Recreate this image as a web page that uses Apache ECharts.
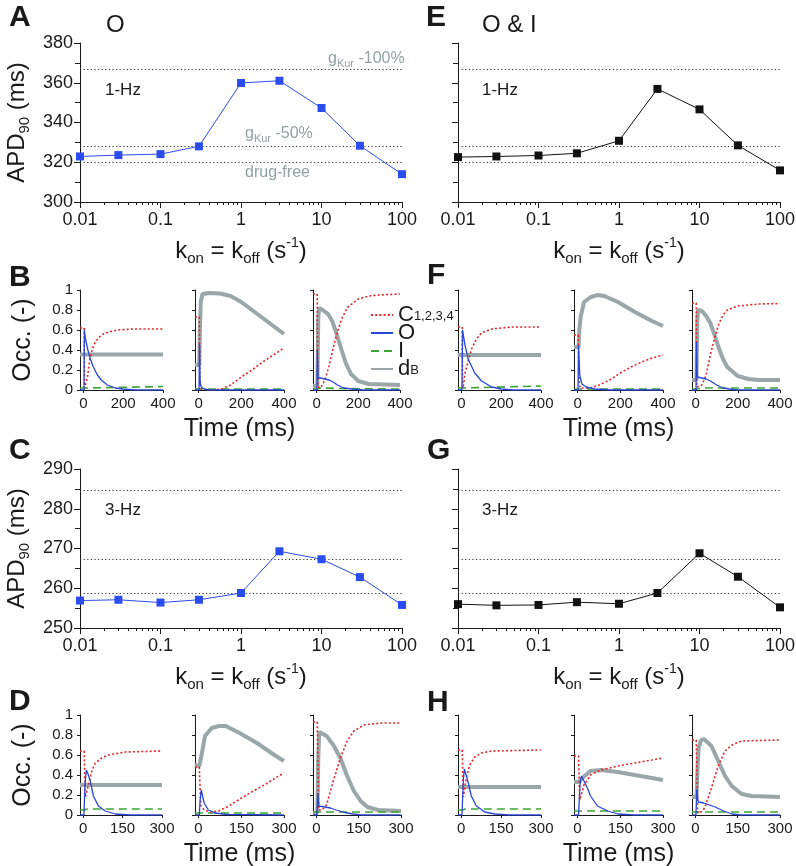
<!DOCTYPE html>
<html>
<head>
<meta charset="utf-8">
<script src="https://cdn.jsdelivr.net/npm/echarts@6/dist/echarts.min.js"></script>
<style>
  html, body { margin: 0; padding: 0; background: #fff; }
  #chart { width: 796px; height: 866px; }
</style>
</head>
<body>
<div id="chart"></div>
<script>
// --- APD90 vs rate constants ---
var kon = [0.01, 0.03, 0.1, 0.3, 1, 3, 10, 30, 100];
var apdA = [322.9, 323.6, 324.1, 328.0, 359.9, 361.0, 347.3, 328.3, 314.0];
var apdE = [322.6, 322.9, 323.4, 324.5, 330.8, 356.9, 346.6, 328.5, 315.9];
var apdC = [256.9, 257.1, 256.4, 257.1, 258.8, 269.3, 267.3, 262.8, 255.8];
var apdG = [256.0, 255.7, 255.8, 256.5, 256.1, 258.8, 268.8, 262.9, 255.2];
var ref1Hz = [366.7, 328.2, 320.2];   // gKur -100%, gKur -50%, drug-free
var ref3Hz = [284.7, 267.4, 258.8];
var logMinor = [0.02, 0.03, 0.04, 0.05, 0.06, 0.07, 0.08, 0.09,
                0.2, 0.3, 0.4, 0.5, 0.6, 0.7, 0.8, 0.9,
                2, 3, 4, 5, 6, 7, 8, 9,
                20, 30, 40, 50, 60, 70, 80, 90];

// --- occupancy time courses [t(ms), occ] : C, O, I, dB ---
var B1_C = [[-17,0.62],[4,0.62],[6,0.02],[12,0.03],[20,0.12],[30,0.28],[45,0.41],[60,0.48],[80,0.53],[100,0.56],[130,0.58],[170,0.6],[250,0.61],[400,0.61]];
var B1_O = [[-17,0],[3,0],[5,0.6],[10,0.52],[20,0.42],[35,0.31],[50,0.23],[70,0.15],[90,0.1],[120,0.05],[160,0.02],[200,0.01],[260,0],[400,0]];
var B1_I = [[-17,0.02],[4,0.02],[10,0.035],[400,0.035]];
var B1_D = [[-17,0.355],[400,0.355]];

var B2_C = [[-17,0.73],[3,0.73],[6,0.06],[12,0.01],[60,0],[110,0.01],[150,0.05],[200,0.13],[250,0.2],[300,0.28],[350,0.35],[400,0.42]];
var B2_O = [[-17,0],[2,0],[4,0.46],[7,0.08],[12,0.03],[25,0.01],[50,0],[400,0]];
var B2_I = [[-17,0.01],[400,0.01]];
var B2_D = [[-17,0.25],[3,0.25],[6,0.6],[10,0.88],[18,0.96],[50,0.97],[100,0.965],[150,0.94],[200,0.88],[250,0.8],[300,0.72],[350,0.64],[400,0.56]];

var B3_C = [[-17,0.96],[3,0.96],[6,0.05],[12,0.02],[25,0.04],[40,0.1],[60,0.24],[80,0.42],[100,0.58],[120,0.71],[150,0.83],[200,0.91],[250,0.94],[300,0.95],[400,0.96]];
var B3_O = [[-17,0],[2,0],[4,0.4],[7,0.12],[20,0.12],[40,0.11],[60,0.1],[80,0.08],[100,0.05],[130,0.02],[170,0.01],[220,0],[400,0]];
var B3_I = [[-17,0.01],[5,0.01],[20,0.02],[100,0.015],[400,0.01]];
var B3_D = [[-17,0.04],[4,0.04],[8,0.7],[12,0.82],[30,0.8],[55,0.76],[75,0.69],[90,0.6],[105,0.5],[120,0.4],[140,0.27],[165,0.16],[200,0.09],[250,0.06],[400,0.05]];

var F1_C = [[-17,0.63],[4,0.63],[6,0.02],[12,0.06],[17,0.16],[34,0.29],[51,0.41],[76,0.51],[101,0.57],[152,0.61],[250,0.63],[400,0.63]];
var F1_O = [[-17,0],[3,0],[6,0.6],[17,0.46],[34,0.31],[67,0.17],[101,0.09],[152,0.03],[200,0.01],[260,0],[400,0]];
var F1_I = [[-17,0.02],[5,0.02],[15,0.04],[400,0.04]];
var F1_D = [[-17,0.35],[400,0.35]];

var F2_C = [[-17,0.55],[3,0.55],[7,0.08],[12,0.02],[60,0.02],[100,0.05],[150,0.1],[200,0.17],[250,0.23],[300,0.28],[350,0.32],[400,0.35]];
var F2_O = [[-17,0],[2,0],[4,0.45],[10,0.15],[20,0.06],[40,0.03],[80,0.01],[150,0],[400,0]];
var F2_I = [[-17,0.01],[400,0.01]];
var F2_D = [[-17,0.43],[4,0.43],[8,0.6],[14,0.73],[30,0.88],[62,0.93],[94,0.95],[125,0.94],[189,0.88],[268,0.78],[348,0.69],[400,0.64]];

var F3_C = [[-17,0.87],[3,0.87],[6,0.03],[15,0.02],[30,0.05],[50,0.15],[70,0.35],[90,0.52],[110,0.66],[130,0.75],[150,0.8],[200,0.84],[300,0.86],[400,0.865]];
var F3_O = [[-17,0],[2,0],[4,0.48],[8,0.13],[30,0.12],[50,0.11],[70,0.09],[100,0.05],[130,0.02],[160,0.01],[200,0],[400,0]];
var F3_I = [[-17,0.01],[5,0.01],[30,0.02],[400,0.02]];
var F3_D = [[-17,0.1],[4,0.1],[8,0.7],[12,0.8],[30,0.79],[50,0.74],[70,0.67],[90,0.55],[110,0.42],[130,0.31],[150,0.23],[200,0.14],[250,0.11],[300,0.1],[400,0.1]];

var D1_C = [[-12,0.64],[4,0.64],[8,0.18],[12,0.2],[20,0.3],[33,0.44],[46,0.52],[71,0.57],[96,0.6],[160,0.63],[300,0.64]];
var D1_O = [[-12,0],[3,0],[7,0.3],[12,0.45],[20,0.4],[27,0.34],[39,0.19],[58,0.09],[84,0.04],[122,0.01],[180,0],[300,0]];
var D1_I = [[-12,0.05],[5,0.05],[15,0.06],[300,0.06]];
var D1_D = [[-12,0.3],[300,0.3]];

var D2_C = [[-12,0.48],[3,0.48],[8,0.1],[20,0.05],[40,0.03],[70,0.04],[100,0.08],[140,0.15],[180,0.22],[230,0.3],[270,0.37],[300,0.42]];
var D2_O = [[-12,0],[3,0],[6,0.15],[10,0.25],[20,0.12],[35,0.05],[60,0.02],[100,0.005],[300,0]];
var D2_I = [[-12,0.02],[300,0.02]];
var D2_D = [[-12,0.5],[3,0.49],[6,0.48],[11,0.6],[23,0.79],[47,0.87],[72,0.89],[96,0.89],[144,0.82],[205,0.72],[266,0.6],[300,0.54]];

var D3_C = [[-12,0.93],[3,0.93],[8,0.05],[20,0.05],[36,0.1],[60,0.34],[85,0.57],[109,0.74],[133,0.84],[169,0.9],[230,0.92],[300,0.92]];
var D3_O = [[-12,0],[2,0],[5,0.22],[9,0.09],[30,0.08],[50,0.07],[70,0.05],[100,0.025],[130,0.01],[160,0],[300,0]];
var D3_I = [[-12,0.03],[300,0.03]];
var D3_D = [[-12,0.02],[3,0.02],[7,0.6],[10,0.83],[36,0.79],[60,0.7],[85,0.57],[109,0.39],[133,0.24],[157,0.14],[181,0.08],[218,0.05],[300,0.04]];

var H1_C = [[-12,0.65],[4,0.65],[8,0.18],[19,0.37],[32,0.5],[51,0.58],[76,0.62],[114,0.64],[300,0.65]];
var H1_O = [[-12,0],[3,0],[8,0.35],[12,0.46],[25,0.34],[38,0.19],[57,0.09],[89,0.03],[127,0.01],[180,0],[300,0]];
var H1_I = [[-12,0.05],[5,0.05],[15,0.06],[300,0.06]];
var H1_D = [[-12,0.28],[300,0.28]];

var H2_C = [[-12,0.59],[4,0.59],[8,0.15],[23,0.3],[46,0.4],[82,0.45],[142,0.49],[201,0.52],[261,0.55],[300,0.57]];
var H2_O = [[-12,0],[4,0],[9,0.3],[14,0.39],[35,0.27],[46,0.19],[70,0.09],[106,0.04],[142,0.01],[200,0],[300,0]];
var H2_I = [[-12,0.04],[300,0.04]];
var H2_D = [[-12,0.33],[5,0.33],[17,0.37],[46,0.44],[82,0.45],[142,0.43],[201,0.4],[261,0.37],[300,0.35]];

var H3_C = [[-12,0.75],[3,0.75],[8,0.02],[20,0.03],[33,0.07],[57,0.27],[81,0.49],[105,0.64],[129,0.7],[164,0.74],[300,0.75]];
var H3_O = [[-12,0],[2,0],[5,0.26],[10,0.13],[30,0.12],[50,0.1],[70,0.08],[100,0.04],[130,0.01],[160,0],[300,0]];
var H3_I = [[-12,0.03],[300,0.03]];
var H3_D = [[-12,0.18],[4,0.18],[8,0.5],[12,0.68],[21,0.75],[30,0.76],[57,0.69],[81,0.54],[105,0.39],[129,0.29],[164,0.21],[200,0.19],[300,0.18]];

var ticks400 = [0, 200, 400];
var ticks300 = [0, 150, 300];
var occTicks = [0, 0.2, 0.4, 0.6, 0.8, 1];

var FONT = '"Liberation Sans", Arial, Helvetica, sans-serif';
var INK = '#1a1a1a';

var grids = [], xAxes = [], yAxes = [], series = [];

var richBig = {
  m: { fontSize: 24, lineHeight: 30, fontFamily: FONT, color: INK },
  s: { fontSize: 15, lineHeight: 15, fontFamily: FONT, color: INK, verticalAlign: 'bottom' },
  p: { fontSize: 14, lineHeight: 22, fontFamily: FONT, color: INK, verticalAlign: 'top' }
};
var kName = '{m|k}{s|on}{m| = k}{s|off}{m| (s}{p|-1}{m|)}';

function apdPanel(box, values, refs, color, yMin, yMax, yStep, withLabels) {
  var gi = grids.length;
  grids.push({ left: box[0], top: box[1], width: box[2], height: box[3], containLabel: false, outerBoundsMode: 'none' });
  var xi = xAxes.length;
  xAxes.push({
    gridIndex: gi, type: 'log', logBase: 10, min: 0.01, max: 100, position: 'bottom',
    axisLine: { onZero: false, lineStyle: { color: INK, width: 1 } },
    axisTick: { length: 6, lineStyle: { color: INK } },
    axisLabel: { fontSize: 18, color: INK, fontFamily: FONT, margin: 9,
      formatter: function (v) { return String(parseFloat(Number(v).toPrecision(6))); } },
    splitLine: { show: false },
    name: kName, nameLocation: 'middle', nameGap: 34,
    nameTextStyle: { rich: richBig }
  });
  // minor decade ticks, placed on a companion axis in log10 units
  xAxes.push({
    gridIndex: gi, type: 'value', min: -2, max: 2, position: 'bottom',
    axisLine: { show: false }, axisLabel: { show: false }, splitLine: { show: false },
    axisTick: { show: true, length: 3, customValues: logMinor.map(Math.log10), lineStyle: { color: INK } }
  });
  var yi = yAxes.length;
  yAxes.push({
    gridIndex: gi, type: 'value', min: yMin, max: yMax, interval: yStep,
    axisLine: { show: true, onZero: false, lineStyle: { color: INK, width: 1 } },
    axisTick: { show: true, length: 6, lineStyle: { color: INK } },
    minorTick: { show: true, splitNumber: 2, length: 5, lineStyle: { color: INK } },
    axisLabel: { show: withLabels, fontSize: 18, color: INK, fontFamily: FONT, margin: 7 },
    splitLine: { show: false },
    name: withLabels ? '{m|APD}{s|90}{m| (ms)}' : '', nameLocation: 'middle', nameGap: 48,
    nameTextStyle: { rich: richBig }
  });
  series.push({
    type: 'line', xAxisIndex: xi, yAxisIndex: yi,
    data: kon.map(function (k, i) { return [k, values[i]]; }),
    symbol: 'rect', symbolSize: 8, showSymbol: true,
    itemStyle: { color: color },
    lineStyle: { color: color, width: 1 },
    markLine: {
      silent: true, symbol: ['none', 'none'], label: { show: false },
      lineStyle: { type: [1.2, 2.4], color: '#333', width: 1.2 },
      data: refs.map(function (v) { return { yAxis: v }; })
    },
    z: 5
  });
}

var styleC = { color: '#e3262b', width: 1.6, type: [2, 2.2] };
var styleO = { color: '#2946d6', width: 1.3, type: 'solid' };
var styleI = { color: '#3ca535', width: 1.6, type: [8, 5] };
var styleD = { color: '#9aa6a7', width: 4, type: 'solid' };

function occPanel(box, tMin, tMax, tTicks, curves, withLabels, xName) {
  var gi = grids.length;
  grids.push({ left: box[0], top: box[1], width: box[2], height: box[3], containLabel: false, outerBoundsMode: 'none' });
  var xi = xAxes.length;
  xAxes.push({
    gridIndex: gi, type: 'value', min: tMin, max: tMax,
    axisLine: { onZero: false, lineStyle: { color: INK, width: 1 } },
    axisTick: { length: 3, customValues: tTicks, lineStyle: { color: INK } },
    axisLabel: { fontSize: 15, color: INK, fontFamily: FONT, margin: 6, customValues: tTicks },
    splitLine: { show: false },
    name: xName || '', nameLocation: 'middle', nameGap: 27,
    nameTextStyle: { fontSize: 25, color: INK, fontFamily: FONT }
  });
  var yi = yAxes.length;
  yAxes.push({
    gridIndex: gi, type: 'value', min: 0, max: 1,
    axisLine: { show: true, onZero: false, lineStyle: { color: INK, width: 1 } },
    axisTick: { show: true, length: 3, customValues: occTicks, lineStyle: { color: INK } },
    axisLabel: { show: withLabels, fontSize: 15, color: INK, fontFamily: FONT, margin: 7, customValues: occTicks },
    splitLine: { show: false },
    name: withLabels ? 'Occ. (-)' : '', nameLocation: 'middle', nameGap: 44,
    nameTextStyle: { fontSize: 25, color: INK, fontFamily: FONT }
  });
  var names = ['dB', 'I', 'C', 'O'];
  var data = [curves[3], curves[2], curves[0], curves[1]];
  var styles = [styleD, styleI, styleC, styleO];
  for (var k = 0; k < 4; k++) {
    series.push({
      type: 'line', name: names[k], xAxisIndex: xi, yAxisIndex: yi,
      data: data[k], symbol: 'none', showSymbol: false, silent: true,
      lineStyle: styles[k], itemStyle: { color: styles[k].color },
      z: 2 + k
    });
  }
}

// top row: A and E
apdPanel([80, 43, 322, 159], apdA, ref1Hz, '#2b4cf0', 300, 380, 20, true);
apdPanel([458, 43, 322, 159], apdE, ref1Hz, '#111111', 300, 380, 20, false);
// third row: C and G
apdPanel([80, 469, 322, 159], apdC, ref3Hz, '#2b4cf0', 250, 290, 10, true);
apdPanel([458, 469, 322, 159], apdG, ref3Hz, '#111111', 250, 290, 10, false);

// B and F (1 Hz)
occPanel([80, 290, 83, 100], -17, 400, ticks400, [B1_C, B1_O, B1_I, B1_D], true);
occPanel([195, 290, 89, 100], -17, 400, ticks400, [B2_C, B2_O, B2_I, B2_D], false, 'Time (ms)');
occPanel([313, 290, 87, 100], -17, 400, ticks400, [B3_C, B3_O, B3_I, B3_D], false);
occPanel([458, 290, 83, 100], -17, 400, ticks400, [F1_C, F1_O, F1_I, F1_D], false);
occPanel([574, 290, 89, 100], -17, 400, ticks400, [F2_C, F2_O, F2_I, F2_D], false, 'Time (ms)');
occPanel([692, 290, 88, 100], -17, 400, ticks400, [F3_C, F3_O, F3_I, F3_D], false);
// D and H (3 Hz)
occPanel([80, 715, 82, 100], -12, 300, ticks300, [D1_C, D1_O, D1_I, D1_D], true);
occPanel([195, 715, 89, 100], -12, 300, ticks300, [D2_C, D2_O, D2_I, D2_D], false, 'Time (ms)');
occPanel([313, 715, 88, 100], -12, 300, ticks300, [D3_C, D3_O, D3_I, D3_D], false);
occPanel([458, 715, 83, 100], -12, 300, ticks300, [H1_C, H1_O, H1_I, H1_D], false);
occPanel([574, 715, 89, 100], -12, 300, ticks300, [H2_C, H2_O, H2_I, H2_D], false, 'Time (ms)');
occPanel([692, 715, 88, 100], -12, 300, ticks300, [H3_C, H3_O, H3_I, H3_D], false);

function txt(x, y, text, size, opts) {
  opts = opts || {};
  return {
    type: 'text', x: x, y: y, silent: true, z: 20,
    style: {
      text: text, fill: opts.fill || INK,
      font: (opts.bold ? 'bold ' : '') + size + 'px ' + FONT,
      align: 'left', verticalAlign: 'middle', rich: opts.rich
    }
  };
}
var GRAY = '#95a1a1';
var richG = {
  g: { fontSize: 16, fontFamily: FONT, fill: GRAY, color: GRAY, lineHeight: 20 },
  s: { fontSize: 11, fontFamily: FONT, fill: GRAY, color: GRAY, lineHeight: 11, verticalAlign: 'bottom' }
};

var graphics = [
  txt(9, 18, 'A', 30, { bold: true }),
  txt(426, 18, 'E', 30, { bold: true }),
  txt(9, 278, 'B', 30, { bold: true }),
  txt(427, 276, 'F', 30, { bold: true }),
  txt(9, 451, 'C', 30, { bold: true }),
  txt(427, 451, 'G', 30, { bold: true }),
  txt(9, 702, 'D', 30, { bold: true }),
  txt(427, 703, 'H', 30, { bold: true }),
  txt(106, 25, 'O', 24),
  txt(482, 25, 'O & I', 24),
  txt(105, 90, '1-Hz', 17),
  txt(482, 90, '1-Hz', 17),
  txt(105, 510, '3-Hz', 17),
  txt(482, 510, '3-Hz', 17),
  txt(328, 59, '{g|g}{s|Kur}{g| -100%}', 16, { fill: GRAY, rich: richG }),
  txt(245, 134, '{g|g}{s|Kur}{g| -50%}', 16, { fill: GRAY, rich: richG }),
  txt(245, 173, 'drug-free', 16, { fill: GRAY })
];

var legendText = {
  C: '{m|C}{s|1,2,3,4}',
  O: '{m|O}',
  I: '{m|I}',
  dB: '{m|d}{s|B}'
};

var chart = echarts.init(document.getElementById('chart'), null, { renderer: 'canvas' });
chart.setOption({
  backgroundColor: '#ffffff',
  animation: false,
  textStyle: { fontFamily: FONT },
  grid: grids,
  xAxis: xAxes,
  yAxis: yAxes,
  series: series,
  legend: {
    data: ['C', 'O', 'I', 'dB'],
    orient: 'vertical', left: 370, top: 304,
    itemWidth: 22, itemHeight: 12, itemGap: -4,
    selectedMode: false, padding: 0,
    itemStyle: { color: 'rgba(0,0,0,0)', borderWidth: 0, opacity: 0 },
    formatter: function (n) { return legendText[n]; },
    textStyle: {
      rich: {
        m: { fontSize: 22, lineHeight: 16, fontFamily: FONT, color: INK },
        s: { fontSize: 13, lineHeight: 12, fontFamily: FONT, color: INK, verticalAlign: 'bottom' }
      }
    }
  },
  graphic: graphics
});
</script>
</body>
</html>
